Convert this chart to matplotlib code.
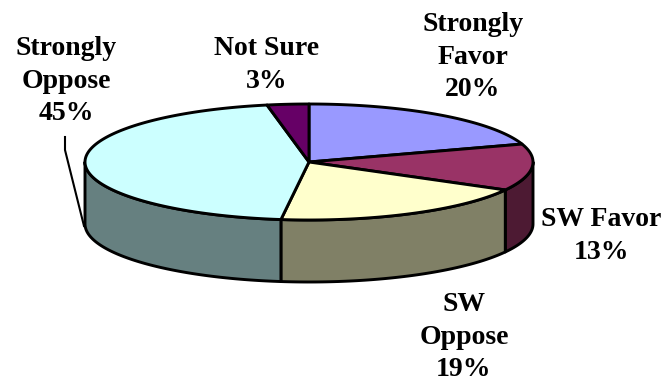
import numpy as np
import matplotlib
matplotlib.use("Agg")
import matplotlib.pyplot as plt
from matplotlib.patches import Polygon

categories = ["Strongly\nFavor", "SW Favor", "SW\nOppose", "Strongly\nOppose", "Not Sure"]
values = [20, 13, 19, 45, 3]
top_colors = ["#9999FF", "#993366", "#FFFFCC", "#CCFFFF", "#660066"]
side_colors = ["#4D4D80", "#4D1A33", "#808066", "#668080", "#330033"]
label_centers = [(473, 57), (601, 236), (464, 337), (66, 81), (267, 65)]

# Pie geometry in figure pixels
CX, CY = 309, 162
RX, RY = 224, 58
DEPTH = 62

fig = plt.figure(figsize=(6.62, 3.83), dpi=100)
ax = fig.add_axes([0, 0, 1, 1])
ax.set_xlim(0, 662)
ax.set_ylim(383, 0)
ax.axis("off")


def rim(a, b, dy=0.0):
    """Ellipse points from angle a to b, clockwise from twelve o'clock."""
    t = np.linspace(a, b, max(int(abs(b - a) * 60), 2))
    return np.column_stack([CX + RX * np.sin(t), CY + dy - RY * np.cos(t)])


edges = 2 * np.pi * np.concatenate([[0], np.cumsum(values)]) / sum(values)
style = dict(edgecolor="black", linewidth=2.1, joinstyle="round")

# Extruded wall: only the front half of the ellipse is visible
for i, color in enumerate(side_colors):
    a, b = max(edges[i], np.pi / 2), min(edges[i + 1], 3 * np.pi / 2)
    if a < b:
        wall = np.vstack([rim(a, b), rim(a, b, DEPTH)[::-1]])
        ax.add_patch(Polygon(wall, closed=True, facecolor=color, zorder=2, **style))

# Top face slices
for i, color in enumerate(top_colors):
    slice_pts = np.vstack([[CX, CY], rim(edges[i], edges[i + 1])])
    ax.add_patch(Polygon(slice_pts, closed=True, facecolor=color, zorder=3, **style))

# Leader line for the Strongly Oppose label
ax.plot([65, 65, 84], [137, 150, 226], color="black", lw=1.5, zorder=1)

for name, value, (x, y) in zip(categories, values, label_centers):
    ax.text(x, y, f"{name}\n{value}%", ha="center", va="center", ma="center",
            family="Liberation Serif", weight="bold", fontsize=20,
            linespacing=1.42, color="black", zorder=4)

fig.savefig("out.png", dpi=100)
